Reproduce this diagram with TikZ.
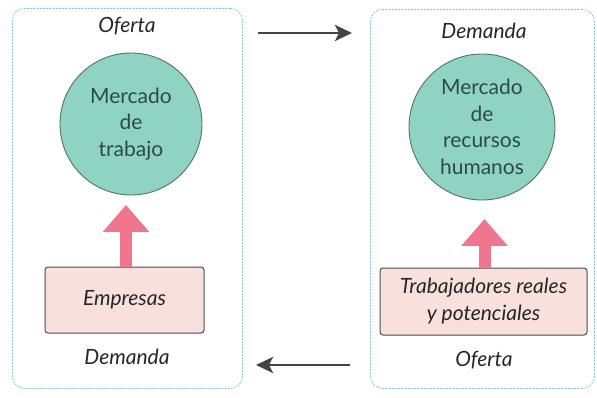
\documentclass[tikz,border=0pt]{standalone}
\usepackage{fontspec}
\setmainfont{Lato}
\usetikzlibrary{arrows.meta}
\definecolor{circfill}{HTML}{8FD4C2}
\definecolor{circtext}{HTML}{2E4A46}
\definecolor{boxfill}{HTML}{F8E1DD}
\definecolor{pinkarrow}{HTML}{F0768E}
\definecolor{dashblue}{HTML}{86C6D6}
\definecolor{darkarrow}{HTML}{444444}
\tikzset{
  panel/.style={draw=dashblue, line width=0.8pt, dash pattern=on 2pt off 1.2pt, rounded corners=12pt},
  market/.style={circle, draw=circtext!80, line width=0.9pt, fill=circfill, text=circtext,
    align=center, font=\fontsize{21}{26.5}\selectfont, inner sep=0pt},
  agent/.style={draw=black!70, line width=1pt, fill=boxfill, rounded corners=3pt,
    align=center, font=\fontsize{21}{27}\selectfont\itshape, text=black!85, inner sep=0pt},
  lbl/.style={font=\fontsize{21}{24}\selectfont\itshape, text=black!85, inner sep=0pt},
  flow/.style={draw=darkarrow, line width=2.8pt, -{Stealth[length=17pt,width=16pt,inset=4pt]}},
  pinkup/.style={draw=pinkarrow, line width=12pt, -{Triangle[length=27pt,width=45pt]}, shorten >=0pt},
}
\begin{document}
\begin{tikzpicture}[x=1pt,y=-1pt]
\useasboundingbox (0,0) rectangle (597,398);
\fill[white] (0,0) rectangle (597,398);
% panels
\node[panel, minimum width=230pt, minimum height=380pt, anchor=north west] (lpanel) at (12,8) {};
\node[panel, minimum width=224pt, minimum height=379pt, anchor=north west] (rpanel) at (370,9) {};
% labels
\node[lbl] (lof) at (127,26) {Oferta};
\node[lbl] (ldem) at (127,357) {Demanda};
\node[lbl] (rdem) at (484,31) {Demanda};
\node[lbl] (rof) at (484,360) {Oferta};
% circles
\node[market, minimum size=142pt] (lmkt) at (131,124) {Mercado\\de\\trabajo};
\node[market, minimum size=146pt] (rmkt) at (482,127) {Mercado\\de\\recursos\\humanos};
% boxes
\node[agent, minimum width=159pt, minimum height=66pt] (emp) at (124.5,300) {Empresas};
\node[agent, minimum width=207pt, minimum height=67pt] (trab) at (483.5,301.5) {Trabajadores reales\\y potenciales};
% pink arrows
\coordinate (ltip) at (126,205);
\coordinate (rtip) at (484.5,219);
\draw[pinkup] (emp.north -| ltip) -- (ltip);
\draw[pinkup] (trab.north -| rtip) -- (rtip);
% flow arrows
\coordinate (ta) at (258,33);
\coordinate (tb) at (352,33);
\coordinate (ba) at (350,365);
\coordinate (bb) at (256,365);
\draw[flow] (ta) -- (tb);
\draw[flow] (ba) -- (bb);
\end{tikzpicture}
\end{document}
